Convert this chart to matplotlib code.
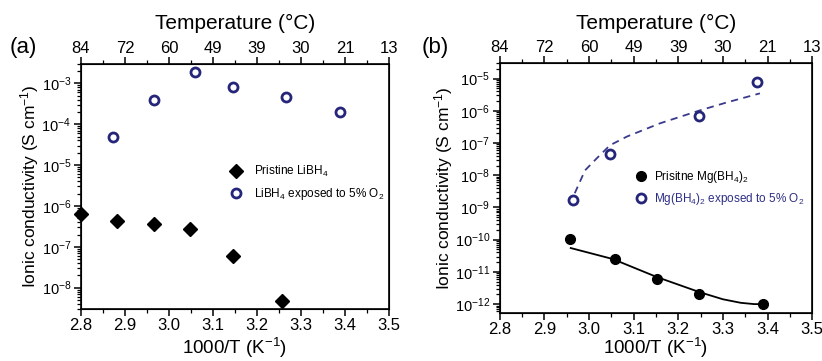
import numpy as np
import matplotlib.pyplot as plt
from matplotlib.ticker import MultipleLocator, LogLocator, NullFormatter

plt.rcParams['font.family'] = ['Liberation Sans', 'DejaVu Sans']
plt.rcParams['mathtext.fontset'] = 'custom'
plt.rcParams['mathtext.rm'] = 'Liberation Sans'
plt.rcParams['mathtext.it'] = 'Liberation Sans:italic'
plt.rcParams['mathtext.bf'] = 'Liberation Sans:bold'

# x ticks (1000/T) and matching temperature labels for the top axis
x_ticks = [2.8, 2.9, 3.0, 3.1, 3.2, 3.3, 3.4, 3.5]
temp_labels = ['84', '72', '60', '49', '39', '30', '21', '13']

# (a) LiBH4
li_pristine_x = [2.800, 2.882, 2.966, 3.048, 3.145, 3.257]
li_pristine_y = [6.5e-7, 4.3e-7, 3.6e-7, 2.7e-7, 5.8e-8, 4.6e-9]
li_o2_x = [2.873, 2.966, 3.059, 3.145, 3.266, 3.389]
li_o2_y = [4.8e-5, 3.9e-4, 1.85e-3, 8.0e-4, 4.6e-4, 1.96e-4]

# (b) Mg(BH4)2
mg_pristine_x = [2.957, 3.058, 3.152, 3.246, 3.390]
mg_pristine_y = [1.05e-10, 2.5e-11, 6.0e-12, 2.0e-12, 1.0e-12]
mg_o2_x = [2.964, 3.047, 3.246, 3.376]
mg_o2_y = [1.65e-9, 4.5e-8, 7.0e-7, 8.0e-6]

# fitted curves (log10 values)
mg_fit_x = [2.959, 3.053, 3.152, 3.248, 3.300, 3.340, 3.370, 3.383]
mg_fit_logy = [-10.26, -10.60, -11.16, -11.63, -11.85, -11.96, -12.0, -12.0]
mg_o2_fit_x = [2.968, 2.991, 3.017, 3.047, 3.085, 3.159, 3.248, 3.309, 3.383]
mg_o2_fit_logy = [-8.56, -7.85, -7.48, -7.07, -6.80, -6.39, -5.99, -5.74, -5.46]

navy = '#25257a'

fig = plt.figure(figsize=(8.22, 3.61), dpi=100)
ax1 = fig.add_axes([0.0985, 0.144, 0.3747, 0.679])
ax2 = fig.add_axes([0.608, 0.133, 0.380, 0.692])


def style(ax, ylim, yticks, tag, tagx, xpad):
    ax.set_yscale('log')
    ax.set_xlim(2.8, 3.5)
    ax.set_ylim(*ylim)
    ax.set_xticks(x_ticks)
    ax.set_xticklabels(['%.1f' % v for v in x_ticks])
    ax.xaxis.set_minor_locator(MultipleLocator(0.05))
    ax.set_yticks(yticks)
    ax.yaxis.set_minor_locator(LogLocator(base=10, subs=np.arange(2, 10)))
    ax.yaxis.set_minor_formatter(NullFormatter())
    ax.tick_params(which='major', length=5, width=1.1, direction='out')
    ax.tick_params(which='minor', length=3, width=0.9, direction='out')
    ax.tick_params(axis='x', labelsize=12, pad=1.5)
    ax.tick_params(axis='y', labelsize=10.5, pad=2)
    ax.tick_params(axis='y', right=False, which='both')
    for s in ax.spines.values():
        s.set_linewidth(1.2)
    ax.set_xlabel('1000/T (K$^{-1}$)', fontsize=13.5, labelpad=xpad)
    ax.set_ylabel('Ionic conductivity (S cm$^{-1}$)', fontsize=12.5, labelpad=0)
    top = ax.twiny()
    top.set_xlim(ax.get_xlim())
    top.set_xticks(x_ticks)
    top.set_xticklabels(temp_labels)
    top.xaxis.set_minor_locator(MultipleLocator(0.05))
    top.tick_params(which='major', length=5, width=1.1, labelsize=12, pad=1,
                    direction='out')
    top.tick_params(which='minor', length=3, width=0.9, direction='out')
    top.set_xlabel('Temperature (\u00b0C)', fontsize=15, labelpad=8)
    fig.text(tagx, 0.838, tag, fontsize=16, ha='left', va='bottom')
    return top


style(ax1, (3e-9, 3e-3), [1e-8, 1e-7, 1e-6, 1e-5, 1e-4, 1e-3], '(a)', 0.012, 2)
style(ax2, (5.3e-13, 3e-5), [1e-12, 1e-11, 1e-10, 1e-9, 1e-8, 1e-7, 1e-6, 1e-5],
      '(b)', 0.513, -1)

ax1.plot(li_pristine_x, li_pristine_y, 'D', color='black', ms=7, ls='none',
         label='Pristine LiBH$_4$', clip_on=False, zorder=5)
ax1.plot(li_o2_x, li_o2_y, 'o', mfc='white', mec=navy, mew=2.0, ms=6.5, ls='none',
         label='LiBH$_4$ exposed to 5% O$_2$')
ax1.legend(loc='upper left', bbox_to_anchor=(0.484, 0.59), frameon=False,
           fontsize=8.5, handlelength=1.0, handletextpad=1.0, borderpad=0,
           borderaxespad=0, labelspacing=0.55)

ax2.plot(mg_fit_x, 10 ** np.array(mg_fit_logy), '-', color='black', lw=1.3)
ax2.plot(mg_o2_fit_x, 10 ** np.array(mg_o2_fit_logy), '--', color='#3a3a8c', lw=1.3,
         dashes=(4, 3))
ax2.plot(mg_pristine_x, mg_pristine_y, 'o', color='black', ms=7, ls='none',
         label='Prisitne Mg(BH$_4$)$_2$')
ax2.plot(mg_o2_x, mg_o2_y, 'o', mfc='white', mec=navy, mew=2.0, ms=6.5, ls='none',
         label='Mg(BH$_4$)$_2$ exposed to 5% O$_2$')
leg = ax2.legend(loc='upper left', bbox_to_anchor=(0.433, 0.575), frameon=False,
                 fontsize=8.5, handlelength=1.0, handletextpad=0.6, borderpad=0,
                 borderaxespad=0, labelspacing=0.45)
leg.get_texts()[1].set_color('#2e2e86')

fig.savefig('out.png', dpi=100)
